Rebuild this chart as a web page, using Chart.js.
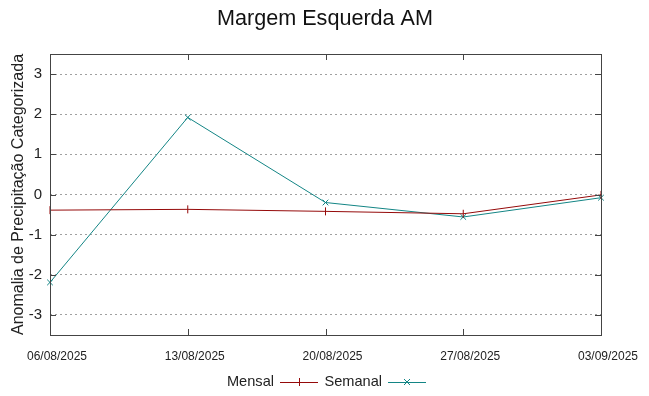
<!DOCTYPE html>
<html>
<head>
<meta charset="utf-8">
<script src="https://cdn.jsdelivr.net/npm/chart.js@4/dist/chart.umd.min.js"></script>
<style>
  html, body { margin: 0; padding: 0; background: #fff; }
  #wrap { width: 649px; height: 396px; }
</style>
</head>
<body>
<div id="wrap"><canvas id="grafico"></canvas></div>
<script>
const datas = ["06/08/2025", "13/08/2025", "20/08/2025", "27/08/2025", "03/09/2025"];
const mensal = [-0.39, -0.37, -0.42, -0.48, -0.01];
const semanal = [-2.19, 1.92, -0.20, -0.56, -0.08];
const yTicks = [-3, -2, -1, 0, 1, 2, 3];

const corMensal = "#950a0a";
const corSemanal = "#138585";
const fonte = "'Liberation Sans', Arial, sans-serif";

// moldura, marcas internas, titulo e legenda no estilo gnuplot
const extras = {
  id: "extras",
  afterDraw(chart) {
    const { ctx, chartArea: a, scales } = chart;
    ctx.save();
    ctx.strokeStyle = "#444";
    ctx.lineWidth = 1;
    ctx.strokeRect(a.left + 0.5, a.top + 0.5, a.right - a.left, a.bottom - a.top);

    ctx.beginPath();
    yTicks.forEach(v => {
      const y = Math.round(scales.y.getPixelForValue(v)) + 0.5;
      ctx.moveTo(a.left, y); ctx.lineTo(a.left + 6, y);
      ctx.moveTo(a.right, y); ctx.lineTo(a.right - 6, y);
    });
    datas.forEach((d, i) => {
      const x = Math.round(scales.x.getPixelForValue(i)) + 0.5;
      ctx.moveTo(x, a.bottom); ctx.lineTo(x, a.bottom - 6);
      ctx.moveTo(x, a.top); ctx.lineTo(x, a.top + 6);
    });
    ctx.stroke();

    // titulo
    ctx.fillStyle = "#111";
    ctx.font = "21.6px " + fonte;
    ctx.textAlign = "center";
    ctx.textBaseline = "middle";
    ctx.fillText("Margem Esquerda AM", 325, 19);

    // legenda
    ctx.font = "14.6px " + fonte;
    ctx.textAlign = "right";
    const yl = 382;
    const itens = [
      { texto: "Mensal", fim: 274, x0: 280, cor: corMensal, tipo: "+" },
      { texto: "Semanal", fim: 382, x0: 388, cor: corSemanal, tipo: "x" }
    ];
    itens.forEach(it => {
      ctx.fillStyle = "#222";
      ctx.fillText(it.texto, it.fim, yl);
      ctx.strokeStyle = it.cor;
      ctx.beginPath();
      ctx.moveTo(it.x0, yl + 0.5); ctx.lineTo(it.x0 + 38, yl + 0.5);
      const cx = it.x0 + 19;
      if (it.tipo === "+") {
        ctx.moveTo(cx + 0.5, yl - 4); ctx.lineTo(cx + 0.5, yl + 4);
      } else {
        ctx.moveTo(cx - 3, yl - 3); ctx.lineTo(cx + 3, yl + 3);
        ctx.moveTo(cx + 3, yl - 3); ctx.lineTo(cx - 3, yl + 3);
      }
      ctx.stroke();
    });
    ctx.restore();
  }
};

new Chart(document.getElementById("grafico"), {
  type: "line",
  data: {
    labels: datas,
    datasets: [
      {
        label: "Mensal",
        data: mensal,
        borderColor: corMensal,
        backgroundColor: corMensal,
        borderWidth: 1,
        pointStyle: "line",
        pointRotation: 90,
        pointRadius: 4,
        pointBorderWidth: 1,
        tension: 0
      },
      {
        label: "Semanal",
        data: semanal,
        borderColor: corSemanal,
        backgroundColor: corSemanal,
        borderWidth: 1,
        pointStyle: "crossRot",
        pointRadius: 4,
        pointBorderWidth: 1,
        tension: 0
      }
    ]
  },
  options: {
    responsive: true,
    maintainAspectRatio: false,
    animation: false,
    layout: { padding: { top: 54, right: 48, bottom: 0, left: 0 } },
    plugins: {
      legend: { display: false },
      title: { display: false },
      tooltip: { enabled: false }
    },
    scales: {
      x: {
        type: "category",
        offset: false,
        grid: { display: false, drawTicks: false },
        border: { display: false },
        ticks: {
          color: "#222",
          font: { family: fonte, size: 12 },
          padding: 14,
          labelOffset: 7,
          maxRotation: 0,
          autoSkip: false
        },
        afterFit: s => { s.height = 61; }
      },
      y: {
        min: -3.5,
        max: 3.5,
        afterBuildTicks: s => { s.ticks = yTicks.map(v => ({ value: v })); },
        grid: {
          color: "#a0a0a0",
          lineWidth: 1,
          drawTicks: false
        },
        border: { display: false, dash: [2, 3] },
        ticks: {
          color: "#222",
          font: { family: fonte, size: 15 },
          padding: 8
        },
        title: {
          display: true,
          text: "Anomalia de Precipitação Categorizada",
          color: "#222",
          font: { family: fonte, size: 16 },
          padding: { top: 9, bottom: 0 }
        },
        afterFit: s => { s.width = 50; }
      }
    }
  },
  plugins: [extras]
});
</script>
</body>
</html>
